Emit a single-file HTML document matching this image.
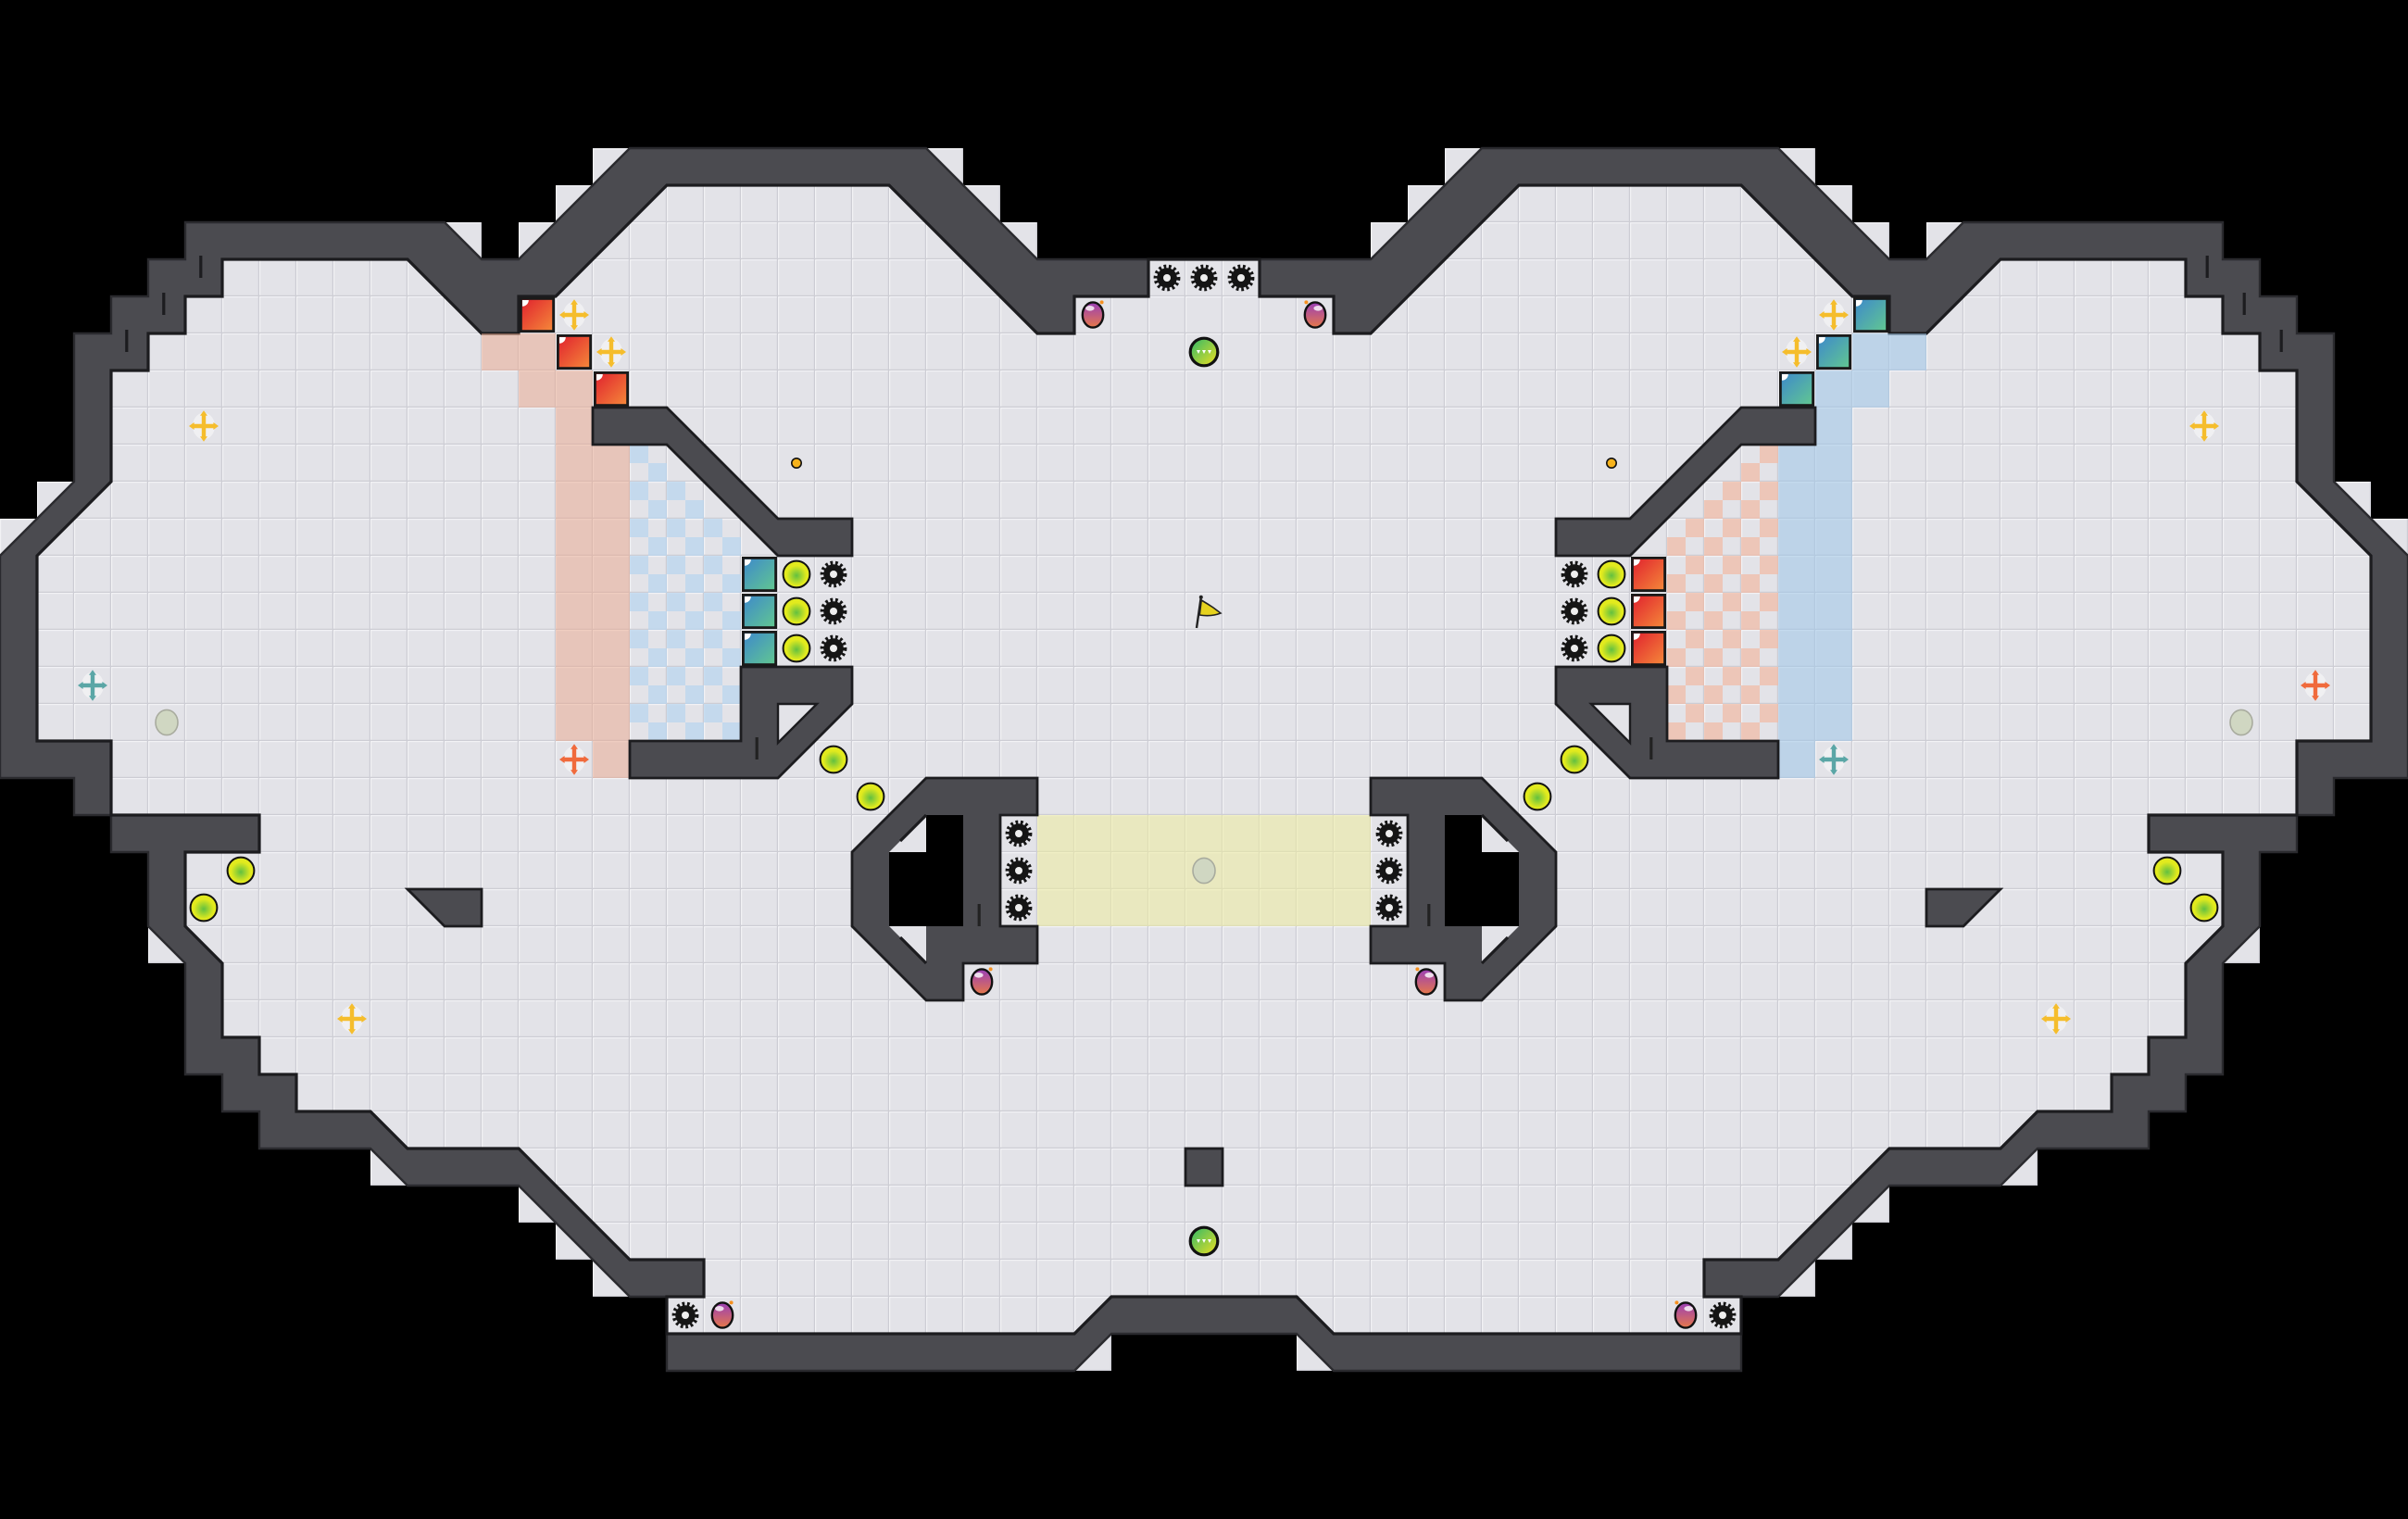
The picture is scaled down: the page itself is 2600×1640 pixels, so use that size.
<!DOCTYPE html>
<html><head><meta charset="utf-8"><style>html,body{margin:0;padding:0;background:#000}svg{display:block}</style></head>
<body>
<svg width="2600" height="1640" viewBox="0 0 65 41" xmlns="http://www.w3.org/2000/svg">
<defs>
<pattern id="fl" patternUnits="userSpaceOnUse" width="1" height="1">
<rect width="1" height="1" fill="#e3e3e8"/>
<path d="M0,1 V0 H1" fill="none" stroke="#f2f2f5" stroke-width="0.06"/>
<path d="M1,0 V1 H0" fill="none" stroke="#cdcdd4" stroke-width="0.06"/>
</pattern>
<pattern id="chkB" patternUnits="userSpaceOnUse" width="1" height="1">
<rect x="0" y="0" width="0.5" height="0.5" fill="#b9d5ee" opacity="0.75"/>
<rect x="0.5" y="0.5" width="0.5" height="0.5" fill="#b9d5ee" opacity="0.75"/>
</pattern>
<pattern id="chkS" patternUnits="userSpaceOnUse" width="1" height="1">
<rect x="0.5" y="0" width="0.5" height="0.5" fill="#f0bca8" opacity="0.75"/>
<rect x="0" y="0.5" width="0.5" height="0.5" fill="#f0bca8" opacity="0.75"/>
</pattern>
<radialGradient id="gy" cx="0.5" cy="0.55" r="0.5"><stop offset="0" stop-color="#62c040"/><stop offset="0.75" stop-color="#e2ea1e"/></radialGradient>
<linearGradient id="gr" x1="0" y1="0" x2="1" y2="1"><stop offset="0" stop-color="#e0202e"/><stop offset="1" stop-color="#f58a3a"/></linearGradient>
<linearGradient id="gbl" x1="0" y1="0" x2="1" y2="1"><stop offset="0" stop-color="#3d88cc"/><stop offset="1" stop-color="#62c890"/></linearGradient>
<linearGradient id="gbm" x1="0" y1="0" x2="0" y2="1"><stop offset="0" stop-color="#9a3fb8"/><stop offset="1" stop-color="#e6784a"/></linearGradient>
<linearGradient id="gg" x1="0" y1="0" x2="1" y2="1"><stop offset="0" stop-color="#2cb86a"/><stop offset="1" stop-color="#f0e020"/></linearGradient>
<g id="yc"><circle r="0.36" fill="url(#gy)" stroke="#111" stroke-width="0.05"/></g>
<g id="gear"><circle r="0.3" fill="none" stroke="#151515" stroke-width="0.12" stroke-dasharray="0.066 0.066"/><circle r="0.27" fill="#151515"/><circle r="0.1" fill="#eee"/></g>
<g id="blkR"><rect x="-0.44" y="-0.44" width="0.88" height="0.88" fill="url(#gr)" stroke="#1a1a1a" stroke-width="0.07"/><path d="M-0.4,-0.4 h0.17 a0.17,0.17 0 0 1 -0.17,0.17 z" fill="#fff"/></g>
<g id="blkB"><rect x="-0.44" y="-0.44" width="0.88" height="0.88" fill="url(#gbl)" stroke="#1a1a1a" stroke-width="0.07"/><path d="M-0.4,-0.4 h0.17 a0.17,0.17 0 0 1 -0.17,0.17 z" fill="#fff"/></g>
<g id="cross"><ellipse rx="0.3" ry="0.36" fill="#fff" opacity="0.45"/><path d="M-0.3,0 H0.3 M0,-0.32 V0.32" stroke="currentColor" stroke-width="0.11"/><path d="M-0.4,0 L-0.26,-0.1 L-0.26,0.1Z M0.4,0 L0.26,-0.1 L0.26,0.1Z M0,-0.42 L-0.1,-0.28 L0.1,-0.28Z M0,0.42 L-0.1,0.28 L0.1,0.28Z" fill="currentColor"/></g>
<g id="bomb"><ellipse rx="0.28" ry="0.34" fill="url(#gbm)" stroke="#111" stroke-width="0.06"/><ellipse cx="-0.08" cy="-0.18" rx="0.12" ry="0.07" fill="#fff" opacity="0.8"/><circle cx="0.24" cy="-0.34" r="0.05" fill="#f59020"/></g>
<g id="gball"><circle r="0.37" fill="url(#gg)" stroke="#111" stroke-width="0.08"/><path d="M-0.2,-0.05 l0.1,0 l-0.05,0.1z M-0.05,-0.05 l0.1,0 l-0.05,0.1z M0.1,-0.05 l0.1,0 l-0.05,0.1z" fill="#fff"/></g>
<g id="grey"><ellipse rx="0.3" ry="0.34" fill="#d0d7c2" stroke="#a8ab9e" stroke-width="0.04"/></g>

<g id="half">
<!-- internal walls -->
<path d="M16,11 L18,11 L21,14 L23,14 L23,15 L21,15 L18,12 L16,12 Z" fill="#4b4b50" stroke="#1c1c1f" stroke-width="0.07" stroke-linejoin="miter"/>
<path d="M20,18 L23,18 L23,19 L21,21 L17,21 L17,20 L20,20 Z" fill="#4b4b50" stroke="#1c1c1f" stroke-width="0.07"/>
<path d="M21,19 L22.05,19 L21,20.05 Z" fill="#e3e3e8" stroke="#1c1c1f" stroke-width="0.06"/>
<path d="M20.43,19.9 V20.5" stroke="#222" stroke-width="0.08"/>
<path d="M11,24 L13,24 L13,25 L12,25 Z" fill="#4b4b50" stroke="#1c1c1f" stroke-width="0.07"/>
<path d="M25,21 L28,21 L28,22 L27,22 L27,25 L28,25 L28,26 L26,26 L26,27 L25,27 L23,25 L23,23 Z" fill="#4b4b50" stroke="#1c1c1f" stroke-width="0.07"/>
<path d="M25,22 L26,22 L26,25 L24,25 L24,23 L25,23 Z" fill="#000"/>
<path d="M25,22 L25,23 L24,23 Z" fill="#e3e3e8"/>
<path d="M24,25 L25,25 L25,26 Z" fill="#e3e3e8"/>
<path d="M24.3,22.7 L25,22 M24.3,25.3 L25,26" stroke="#1c1c1f" stroke-width="0.08"/>
<path d="M26.43,24.4 V25" stroke="#222" stroke-width="0.08"/>
<!-- items -->
<use href="#yc" x="21.5" y="15.5"/><use href="#yc" x="21.5" y="16.5"/><use href="#yc" x="21.5" y="17.5"/>
<use href="#yc" x="22.5" y="20.5"/><use href="#yc" x="23.5" y="21.5"/><use href="#yc" x="6.5" y="23.5"/><use href="#yc" x="5.5" y="24.5"/>
<use href="#gear" x="22.5" y="15.5"/><use href="#gear" x="22.5" y="16.5"/><use href="#gear" x="22.5" y="17.5"/>
<use href="#gear" x="27.5" y="22.5"/><use href="#gear" x="27.5" y="23.5"/><use href="#gear" x="27.5" y="24.5"/>
<use href="#gear" x="18.5" y="35.5"/>
<use href="#bomb" x="29.5" y="8.5"/><use href="#bomb" x="26.5" y="26.5"/><use href="#bomb" x="19.5" y="35.5"/>
<use href="#grey" x="4.5" y="19.5"/>
<circle cx="21.5" cy="12.5" r="0.13" fill="#f7b31c" stroke="#111" stroke-width="0.04"/>
<!-- step ticks -->
<path d="M5.42,6.9 V7.5 M4.42,7.9 V8.5 M3.42,8.9 V9.5" stroke="#1c1c1f" stroke-width="0.08"/>
</g>
</defs>

<!-- extra floor tiles under diagonals -->
<g fill="url(#fl)">
<rect x="16" y="4" width="1" height="1"/><rect x="15" y="5" width="1" height="1"/><rect x="14" y="6" width="1" height="1"/><rect x="12" y="6" width="1" height="1"/>
<rect x="25" y="4" width="1" height="1"/><rect x="26" y="5" width="1" height="1"/><rect x="27" y="6" width="1" height="1"/>
<rect x="1" y="13" width="1" height="1"/><rect x="0" y="14" width="1" height="1"/><rect x="4" y="25" width="1" height="1"/>
<rect x="10" y="31" width="1" height="1"/><rect x="14" y="32" width="1" height="1"/><rect x="15" y="33" width="1" height="1"/><rect x="16" y="34" width="1" height="1"/><rect x="29" y="36" width="1" height="1"/>
<rect x="48" y="4" width="1" height="1"/><rect x="49" y="5" width="1" height="1"/><rect x="50" y="6" width="1" height="1"/><rect x="52" y="6" width="1" height="1"/>
<rect x="39" y="4" width="1" height="1"/><rect x="38" y="5" width="1" height="1"/><rect x="37" y="6" width="1" height="1"/>
<rect x="63" y="13" width="1" height="1"/><rect x="64" y="14" width="1" height="1"/><rect x="60" y="25" width="1" height="1"/>
<rect x="54" y="31" width="1" height="1"/><rect x="50" y="32" width="1" height="1"/><rect x="49" y="33" width="1" height="1"/><rect x="48" y="34" width="1" height="1"/><rect x="35" y="36" width="1" height="1"/>
</g>

<!-- outer wall -->
<path d="M32.5,7 L28,7 L25,4 L17,4 L14,7 L13,7 L12,6 L5,6 L5,7 L4,7 L4,8 L3,8 L3,9 L2,9 L2,13 L0,15 L0,21 L2,21 L2,22 L3,22 L3,23 L4,23 L4,25 L5,26 L5,29 L6,29 L6,30 L7,30 L7,31 L10,31 L11,32 L14,32 L17,35 L18,35 L18,37 L29,37 L30,36 L35,36 L36,37 L47,37 L47,35 L48,35 L51,32 L54,32 L55,31 L58,31 L58,30 L59,30 L59,29 L60,29 L60,26 L61,25 L61,23 L62,23 L62,22 L63,22 L63,21 L65,21 L65,15 L63,13 L63,9 L62,9 L62,8 L61,8 L61,7 L60,7 L60,6 L53,6 L52,7 L51,7 L48,4 L40,4 L37,7 Z" fill="#4b4b50" stroke="#2a2a2e" stroke-width="0.06"/>
<!-- inner floor -->
<path d="M31,7 L31,8 L29,8 L29,9 L28,9 L24,5 L18,5 L15,8 L14,8 L14,9 L13,9 L11,7 L6,7 L6,8 L5,8 L5,9 L4,9 L4,10 L3,10 L3,13 L1,15 L1,20 L3,20 L3,22 L7,22 L7,23 L5,23 L5,25 L6,26 L6,28 L7,28 L7,29 L8,29 L8,30 L10,30 L11,31 L14,31 L17,34 L19,34 L19,35 L18,35 L18,36 L29,36 L30,35 L35,35 L36,36 L47,36 L47,35 L46,35 L46,34 L48,34 L51,31 L54,31 L55,30 L57,30 L57,29 L58,29 L58,28 L59,28 L59,26 L60,25 L60,23 L58,23 L58,22 L62,22 L62,20 L64,20 L64,15 L62,13 L62,10 L61,10 L61,9 L60,9 L60,8 L59,8 L59,7 L54,7 L52,9 L51,9 L51,8 L50,8 L47,5 L41,5 L37,9 L36,9 L36,8 L34,8 L34,7 Z" fill="url(#fl)" stroke="#1c1c1f" stroke-width="0.08"/>

<!-- colored regions -->
<path d="M13,9 L15,9 L15,10 L16,10 L16,12 L17,12 L17,21 L16,21 L16,20 L15,20 L15,11 L14,11 L14,10 L13,10 Z" fill="#eba78c" opacity="0.5"/>
<path d="M52,9 L50,9 L50,10 L49,10 L49,12 L48,12 L48,21 L49,21 L49,20 L50,20 L50,11 L51,11 L51,10 L52,10 Z" fill="#9fc6e8" opacity="0.55"/>
<path d="M17,12 L18,12 L18,13 L19,13 L19,14 L20,14 L20,20 L17,20 Z" fill="url(#chkB)"/>
<path d="M48,12 L47,12 L47,13 L46,13 L46,14 L45,14 L45,20 L48,20 Z" fill="url(#chkS)"/>
<rect x="28" y="22" width="9" height="3" fill="#efec9c" opacity="0.55"/>

<use href="#half"/>
<use href="#half" transform="translate(65,0) scale(-1,1)"/>

<!-- center items -->
<use href="#gear" x="31.5" y="7.5"/><use href="#gear" x="32.5" y="7.5"/><use href="#gear" x="33.5" y="7.5"/>
<use href="#gball" x="32.5" y="9.5"/><use href="#gball" x="32.5" y="33.5"/>
<use href="#grey" x="32.5" y="23.5"/>
<rect x="32" y="31" width="1" height="1" fill="#4b4b50" stroke="#1c1c1f" stroke-width="0.07"/>
<g transform="translate(32.5,16.5)">
<path d="M-0.2,0.45 L-0.08,-0.38" stroke="#222" stroke-width="0.06"/>
<circle cx="-0.08" cy="-0.38" r="0.05" fill="#222"/>
<path d="M-0.07,-0.3 Q0.1,-0.2 0.25,-0.1 L0.45,0.05 Q0.2,0.15 -0.12,0.1 Z" fill="#e6d21e" stroke="#222" stroke-width="0.04"/>
</g>

<!-- blocks -->
<use href="#blkR" x="14.5" y="8.5"/><use href="#blkR" x="15.5" y="9.5"/><use href="#blkR" x="16.5" y="10.5"/>
<use href="#blkB" x="20.5" y="15.5"/><use href="#blkB" x="20.5" y="16.5"/><use href="#blkB" x="20.5" y="17.5"/>
<use href="#blkB" x="50.5" y="8.5"/><use href="#blkB" x="49.5" y="9.5"/><use href="#blkB" x="48.5" y="10.5"/>
<use href="#blkR" x="44.5" y="15.5"/><use href="#blkR" x="44.5" y="16.5"/><use href="#blkR" x="44.5" y="17.5"/>

<!-- crosses -->
<g style="color:#f5bd2c">
<use href="#cross" x="15.5" y="8.5"/><use href="#cross" x="16.5" y="9.5"/><use href="#cross" x="5.5" y="11.5"/><use href="#cross" x="9.5" y="27.5"/>
<use href="#cross" x="49.5" y="8.5"/><use href="#cross" x="48.5" y="9.5"/><use href="#cross" x="59.5" y="11.5"/><use href="#cross" x="55.5" y="27.5"/>
</g>
<g style="color:#f06a3c"><use href="#cross" x="15.5" y="20.5"/><use href="#cross" x="62.5" y="18.5"/></g>
<g style="color:#5aa6a6"><use href="#cross" x="2.5" y="18.5"/><use href="#cross" x="49.5" y="20.5"/></g>
</svg>
</body></html>
